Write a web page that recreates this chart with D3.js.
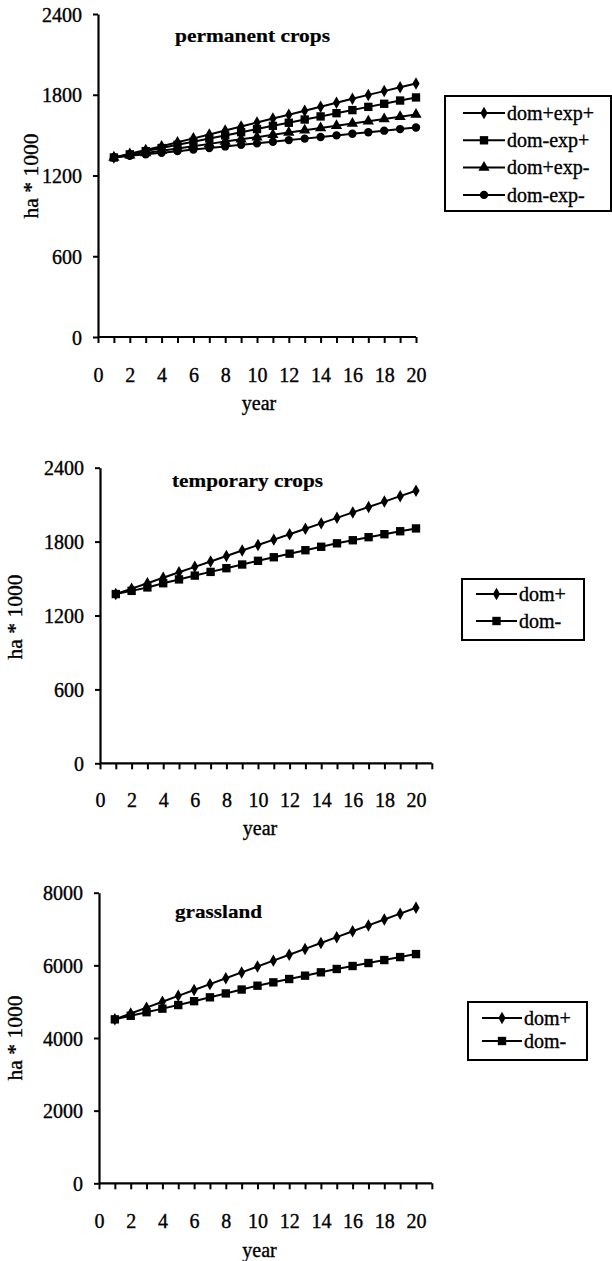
<!DOCTYPE html>
<html><head><meta charset="utf-8">
<script src="https://cdn.jsdelivr.net/npm/d3@7"></script>
<style>
body{margin:0;background:#fff;}
svg text{font-family:'Liberation Serif', serif;fill:#000;}
</style></head>
<body>
<svg id="c" width="612" height="1261"></svg>
<script>
const years = d3.range(1, 21);
const xTicks = d3.range(0, 21);

// Chart 1: permanent crops
const permTitle = "permanent crops";
const permNames = ["dom+exp+", "dom-exp+", "dom+exp-", "dom-exp-"];
const permDomPlusExpPlus = [1334,1362,1390,1418,1447,1476,1505,1534,1564,1594,1623,1652,1681,1711,1740,1770,1799,1827,1856,1884];
const permDomMinusExpPlus = [1334,1357,1381,1404,1428,1451,1475,1498,1522,1545,1569,1592,1616,1639,1663,1686,1710,1733,1757,1780];
const permDomPlusExpMinus = [1334,1351,1368,1384,1401,1418,1435,1452,1469,1485,1502,1519,1536,1553,1570,1586,1603,1620,1637,1654];
const permDomMinusExpMinus = [1334,1346,1357,1369,1381,1393,1404,1416,1428,1439,1451,1463,1474,1486,1498,1510,1521,1533,1545,1557];
const permYTicks = [0, 600, 1200, 1800, 2400];

// Chart 2: temporary crops
const tempTitle = "temporary crops";
const domNames = ["dom+", "dom-"];
const tempDomPlus = [1374,1418,1462,1507,1551,1595,1639,1683,1728,1772,1816,1860,1904,1948,1993,2037,2081,2125,2169,2213];
const tempDomMinus = [1374,1400,1428,1462,1493,1524,1554,1584,1614,1644,1673,1702,1730,1758,1786,1811,1836,1860,1884,1907];
const tempYTicks = [0, 600, 1200, 1800, 2400];

// Chart 3: grassland
const grassTitle = "grassland";
const grassDomPlus = [4513,4675,4836,4998,5160,5321,5483,5645,5806,5968,6130,6291,6453,6615,6776,6938,7100,7261,7423,7585];
const grassDomMinus = [4513,4612,4710,4808,4907,5014,5120,5227,5334,5440,5532,5624,5716,5808,5900,5982,6064,6146,6228,6310];
const grassYTicks = [0, 2000, 4000, 6000, 8000];

const yLabel = "ha * 1000";
const xLabel = "year";

const FONT = "Liberation Serif";

const symbols = {
  diamond: {type: d3.symbolDiamond, size: 45},
  square: {type: d3.symbolSquare, size: 70},
  triangle: {type: d3.symbolTriangle, size: 55},
  circle: {type: d3.symbolCircle, size: 55}
};

const svg = d3.select("#c");

function styleText(sel, size, bold) {
  sel.style("font-family", FONT).style("font-size", size + "px")
    .style("font-weight", bold ? "bold" : "normal")
    .attr("stroke", "#000").attr("stroke-width", bold ? 0.2 : 0.35).attr("fill", "#000");
}

function drawChart(cfg) {
  const g = svg.append("g");
  const x = d3.scaleLinear().domain([0, 20]).range([cfg.x0, cfg.x20]);
  const y = d3.scaleLinear().domain([0, cfg.ymax]).range([cfg.yb, cfg.yt]);

  // x axis
  const xa = d3.axisBottom(x).tickValues(cfg.xTickVals).tickSize(6).tickSizeOuter(0)
    .tickFormat(d => d % 2 === 0 && d <= 20 ? String(d) : "");
  const gx = g.append("g").attr("transform", `translate(0,${cfg.yb})`).call(xa)
    .attr("font-family", FONT).attr("font-size", 20);
  gx.select(".domain").attr("stroke-width", 2.2).attr("d", `M${x(0)},0H${x(cfg.xAxisEnd)}`);
  gx.selectAll(".tick line").attr("stroke-width", 2);
  gx.selectAll(".tick text").attr("y", cfg.xLabOff).attr("dy", "0.35em").call(styleText, 20, false);

  // y axis
  const ya = d3.axisLeft(y).tickValues(cfg.yTicks).tickSize(5).tickSizeOuter(0).tickPadding(11)
    .tickFormat(d3.format("d"));
  const gy = g.append("g").attr("transform", `translate(${cfg.x0},0)`).call(ya)
    .attr("font-family", FONT).attr("font-size", 20);
  gy.select(".domain").attr("stroke-width", 2.2);
  gy.selectAll(".tick line").attr("stroke-width", 2);
  gy.selectAll(".tick text").attr("dy", "0.36em").call(styleText, 20, false);

  // axis titles
  g.append("text").attr("x", (x(0) + x(20)) / 2 + 2).attr("y", cfg.yb + cfg.yearOff)
    .attr("text-anchor", "middle").attr("dy", "0.35em").call(styleText, 20, false).text(xLabel);
  g.append("text").attr("transform", `translate(${cfg.ylabX},${cfg.ylabY}) rotate(-90)`)
    .attr("text-anchor", "middle").attr("dy", "0.35em").call(styleText, 20, false)
    .attr("textLength", 85).attr("lengthAdjust", "spacingAndGlyphs").text(yLabel);

  // title
  g.append("text").attr("x", cfg.titleX).attr("y", cfg.titleY).attr("dy", "0.35em")
    .call(styleText, 19, true)
    .attr("textLength", cfg.titleW).attr("lengthAdjust", "spacingAndGlyphs").text(cfg.title);

  const line = d3.line().x((d, i) => x(years[i])).y(d => y(d));
  cfg.series.forEach(s => {
    g.append("path").datum(s.values).attr("d", line)
      .attr("fill", "none").attr("stroke", "#000").attr("stroke-width", 2);
    g.selectAll(null).data(s.values).enter().append("path")
      .attr("transform", (d, i) => `translate(${x(years[i])},${y(d)})`)
      .attr("d", d3.symbol().type(symbols[s.sym].type).size(symbols[s.sym].size))
      .attr("fill", "#000");
  });

  // legend
  const L = cfg.legend;
  g.append("rect").attr("x", L.x).attr("y", L.y).attr("width", L.w).attr("height", L.h)
    .attr("fill", "#fff").attr("stroke", "#000").attr("stroke-width", 2);
  cfg.series.forEach((s, i) => {
    const yy = L.y + L.first + i * L.step;
    g.append("line").attr("x1", L.lx1).attr("x2", L.lx2).attr("y1", yy).attr("y2", yy)
      .attr("stroke", "#000").attr("stroke-width", 2);
    g.append("path").attr("transform", `translate(${(L.lx1 + L.lx2) / 2},${yy})`)
      .attr("d", d3.symbol().type(symbols[s.sym].type).size(symbols[s.sym].size)).attr("fill", "#000");
    g.append("text").attr("x", L.lx2 + 2).attr("y", yy).attr("dy", "0.33em")
      .call(styleText, 20, false).text(s.name);
  });
}

drawChart({
  title: permTitle, titleX: 175, titleY: 35, titleW: 155,
  x0: 98, x20: 416, yt: 14, yb: 337, ymax: 2400, yTicks: permYTicks,
  xTickVals: xTicks, xAxisEnd: 20, xLabOff: 38, yearOff: 66,
  ylabX: 31, ylabY: 176,
  series: [
    {name: permNames[0], values: permDomPlusExpPlus, sym: "diamond"},
    {name: permNames[1], values: permDomMinusExpPlus, sym: "square"},
    {name: permNames[2], values: permDomPlusExpMinus, sym: "triangle"},
    {name: permNames[3], values: permDomMinusExpMinus, sym: "circle"}
  ],
  legend: {x: 445, y: 96, w: 166, h: 115, first: 17, step: 27.3, lx1: 463, lx2: 505}
});

drawChart({
  title: tempTitle, titleX: 172, titleY: 480, titleW: 151,
  x0: 100, x20: 416, yt: 467.7, yb: 763.3, ymax: 2400, yTicks: tempYTicks,
  xTickVals: d3.range(0, 22), xAxisEnd: 21, xLabOff: 37, yearOff: 65,
  ylabX: 15, ylabY: 617,
  series: [
    {name: domNames[0], values: tempDomPlus, sym: "diamond"},
    {name: domNames[1], values: tempDomMinus, sym: "square"}
  ],
  legend: {x: 462, y: 579, w: 122, h: 61, first: 15, step: 27, lx1: 476, lx2: 517}
});

drawChart({
  title: grassTitle, titleX: 175, titleY: 911.7, titleW: 87,
  x0: 99, x20: 416, yt: 892.7, yb: 1183.3, ymax: 8000, yTicks: grassYTicks,
  xTickVals: d3.range(0, 22), xAxisEnd: 21, xLabOff: 38, yearOff: 67,
  ylabX: 15, ylabY: 1038,
  series: [
    {name: domNames[0], values: grassDomPlus, sym: "diamond"},
    {name: domNames[1], values: grassDomMinus, sym: "square"}
  ],
  legend: {x: 468, y: 1002, w: 119, h: 58, first: 16, step: 23, lx1: 482, lx2: 522}
});
</script>
</body></html>
